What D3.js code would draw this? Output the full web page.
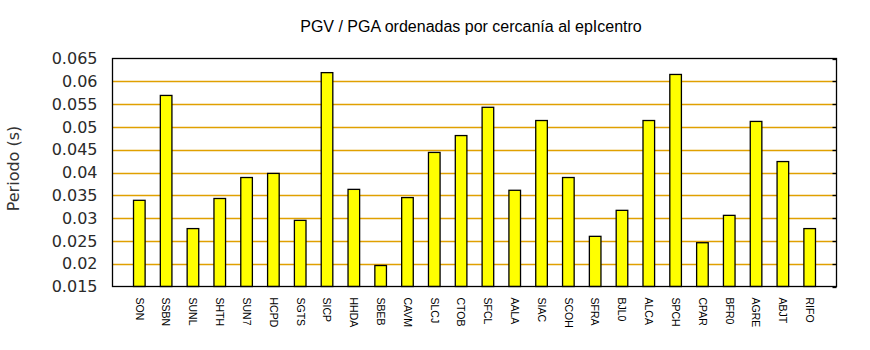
<!DOCTYPE html>
<html><head><meta charset="utf-8">
<script src="https://cdn.jsdelivr.net/npm/d3@7"></script>
<style>body{margin:0;background:#fff}</style>
</head><body>
<svg id="c" width="870" height="350"></svg>
<script>
const categories = ["SON","SSBN","SUNL","SHTH","SUN7","HCPD","SGTS","SICP","HHDA","SBEB","CAVM","SLCJ","CTOB","SFCL","AALA","SIAC","SCOH","SFRA","BJL0","ALCA","SPCH","CPAR","BFR0","AGRE","ABJT","RIFO"];
const values = [0.0339,0.0569,0.0277,0.0343,0.0389,0.0398,0.0295,0.0619,0.0363,0.0196,0.0345,0.0444,0.0481,0.0543,0.0361,0.0514,0.0389,0.0260,0.0317,0.0514,0.0615,0.0246,0.0306,0.0512,0.0424,0.0277];
const yTicks = [0.015,0.02,0.025,0.03,0.035,0.04,0.045,0.05,0.055,0.06,0.065];
const yTickLabels = ["0.015","0.02","0.025","0.03","0.035","0.04","0.045","0.05","0.055","0.06","0.065"];
const title = "PGV / PGA ordenadas por cercanía al epIcentro";
const yTitle = "Periodo (s)";

const svg = d3.select("#c");
const L = 112.5, R = 836.5, T = 58.5, B = 286.5;
const x = d3.scaleLinear().domain([0, categories.length + 1]).range([L, R]);
const y = d3.scaleLinear().domain([0.015, 0.065]).range([B, T]);
const bw = 11.6;

// gridlines
svg.append("g").selectAll("line").data(yTicks.slice(1, -1)).join("line")
  .attr("x1", L).attr("x2", R)
  .attr("y1", d => Math.round(y(d)) + 0.5).attr("y2", d => Math.round(y(d)) + 0.5)
  .attr("stroke", "#e0a000").attr("stroke-width", 1.3);

// right inner ticks
svg.append("g").selectAll("line").data(yTicks).join("line")
  .attr("x1", R - 4).attr("x2", R)
  .attr("y1", d => Math.round(y(d)) + 0.5).attr("y2", d => Math.round(y(d)) + 0.5)
  .attr("stroke", "#000").attr("stroke-width", 1.3);

// bars
svg.append("g").selectAll("rect").data(values).join("rect")
  .attr("x", (d, i) => x(i + 1) - bw / 2)
  .attr("width", bw)
  .attr("y", d => y(d))
  .attr("height", d => B - y(d))
  .attr("fill", "#ffff00").attr("stroke", "#000").attr("stroke-width", 1.3);

// frame
svg.append("rect").attr("x", L).attr("y", T).attr("width", R - L).attr("height", B - T)
  .attr("fill", "none").attr("stroke", "#000").attr("stroke-width", 1.3);

// y tick labels
const yAxis = d3.axisLeft(y).tickValues(yTicks).tickFormat((d, i) => yTickLabels[i]).tickSize(0).tickPadding(15);
const ga = svg.append("g").attr("transform", `translate(${L},0)`).call(yAxis);
ga.select(".domain").remove();
ga.selectAll("text").attr("font-family", "DejaVu Sans").attr("font-size", 16).attr("fill", "#2a2a2a");

// x labels
svg.append("g").selectAll("text").data(categories).join("text")
  .attr("transform", (d, i) => `translate(${x(i + 1)},${B + 11}) rotate(90)`)
  .attr("dy", "0.35em").attr("text-anchor", "start")
  .attr("font-family", "Liberation Sans, Arial, sans-serif").attr("font-size", 10.5)
  .attr("fill", "#000").text(d => d);

// title
svg.append("text").attr("x", 471).attr("y", 32).attr("text-anchor", "middle")
  .attr("font-family", "Liberation Sans, Arial, sans-serif").attr("font-size", 16)
  .attr("fill", "#000").text(title);

// y title
svg.append("text").attr("transform", `translate(19,${(T + B) / 2 - 4}) rotate(-90)`)
  .attr("text-anchor", "middle").attr("font-family", "DejaVu Sans").attr("font-size", 16)
  .attr("fill", "#333").text(yTitle);
</script>
</body></html>
